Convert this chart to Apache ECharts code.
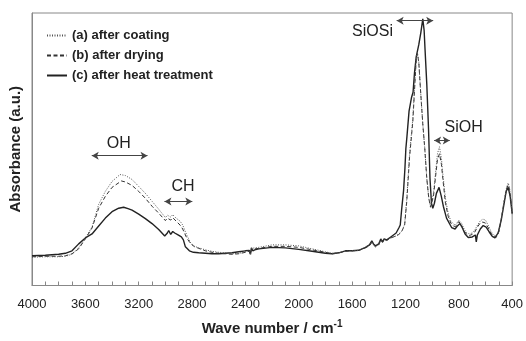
<!DOCTYPE html>
<html>
<head>
<meta charset="utf-8">
<script src="https://cdn.jsdelivr.net/npm/echarts@6/dist/echarts.min.js"></script>
<style>
  html, body { margin: 0; padding: 0; background: #fff; }
  #chart { width: 526px; height: 341px; }
</style>
</head>
<body>
<div id="chart"></div>
<script>
// FTIR spectra, [wave number, absorbance]
const seriesNames = ['(a) after coating', '(b) after drying', '(c) after heat treatment'];

const specA = [
  [4000, 0.114], [3900, 0.116], [3800, 0.116], [3750, 0.118], [3700, 0.126], [3650, 0.152],
  [3600, 0.192], [3550, 0.236], [3500, 0.328], [3450, 0.380], [3400, 0.420], [3340, 0.448],
  [3300, 0.444], [3250, 0.428], [3200, 0.400], [3150, 0.372], [3100, 0.340], [3050, 0.308],
  [3000, 0.274], [2985, 0.284], [2975, 0.290], [2960, 0.276], [2945, 0.286], [2920, 0.272],
  [2890, 0.260], [2870, 0.244], [2840, 0.204], [2810, 0.172], [2780, 0.158], [2750, 0.152],
  [2700, 0.144], [2650, 0.138], [2600, 0.134], [2550, 0.132], [2500, 0.128], [2450, 0.130],
  [2400, 0.136], [2372, 0.140], [2362, 0.128], [2355, 0.150], [2345, 0.144], [2300, 0.154],
  [2200, 0.164], [2100, 0.164], [2000, 0.160], [1900, 0.148], [1800, 0.136], [1750, 0.130],
  [1700, 0.132], [1650, 0.138], [1600, 0.140], [1550, 0.142], [1500, 0.154], [1470, 0.162],
  [1452, 0.176], [1440, 0.166], [1425, 0.158], [1400, 0.166], [1385, 0.184], [1372, 0.176],
  [1360, 0.184], [1340, 0.182], [1310, 0.192], [1290, 0.196], [1270, 0.200], [1250, 0.208],
  [1230, 0.218], [1220, 0.228], [1206, 0.248], [1190, 0.352], [1169, 0.532], [1145, 0.672],
  [1132, 0.800], [1119, 0.920], [1110, 0.940], [1100, 0.904], [1085, 0.772], [1070, 0.652],
  [1055, 0.552], [1040, 0.432], [1025, 0.352], [1012, 0.320], [1005, 0.324], [990, 0.372],
  [975, 0.452], [960, 0.532], [945, 0.560], [930, 0.512], [920, 0.452], [900, 0.352],
  [880, 0.292], [860, 0.260], [840, 0.248], [825, 0.244], [800, 0.264], [780, 0.252],
  [760, 0.228], [740, 0.212], [720, 0.208], [700, 0.212], [680, 0.224], [660, 0.244],
  [640, 0.260], [620, 0.268], [600, 0.264], [580, 0.244], [560, 0.220], [540, 0.204],
  [520, 0.200], [500, 0.220], [480, 0.276], [460, 0.344], [440, 0.400], [430, 0.414],
  [420, 0.396], [410, 0.352], [400, 0.292]
];

const specB = [
  [4000, 0.116], [3900, 0.118], [3800, 0.118], [3750, 0.120], [3700, 0.128], [3650, 0.148],
  [3600, 0.188], [3550, 0.232], [3500, 0.312], [3450, 0.360], [3400, 0.396], [3330, 0.422],
  [3300, 0.418], [3250, 0.404], [3200, 0.380], [3150, 0.352], [3100, 0.320], [3050, 0.292],
  [3000, 0.262], [2985, 0.272], [2975, 0.278], [2960, 0.264], [2945, 0.274], [2920, 0.260],
  [2890, 0.244], [2870, 0.228], [2840, 0.192], [2810, 0.168], [2780, 0.156], [2750, 0.150],
  [2700, 0.140], [2650, 0.134], [2600, 0.130], [2550, 0.128], [2500, 0.126], [2450, 0.128],
  [2400, 0.134], [2372, 0.138], [2362, 0.126], [2355, 0.146], [2345, 0.140], [2300, 0.150],
  [2200, 0.158], [2100, 0.158], [2000, 0.154], [1900, 0.144], [1800, 0.134], [1750, 0.128],
  [1700, 0.132], [1650, 0.138], [1600, 0.140], [1550, 0.142], [1500, 0.152], [1470, 0.160],
  [1452, 0.174], [1440, 0.164], [1425, 0.156], [1400, 0.164], [1385, 0.184], [1372, 0.174],
  [1360, 0.184], [1340, 0.182], [1310, 0.192], [1290, 0.196], [1270, 0.200], [1250, 0.206],
  [1230, 0.216], [1220, 0.224], [1206, 0.244], [1190, 0.340], [1169, 0.520], [1145, 0.660],
  [1132, 0.788], [1119, 0.916], [1110, 0.936], [1100, 0.900], [1085, 0.772], [1070, 0.652],
  [1055, 0.552], [1040, 0.432], [1025, 0.352], [1012, 0.316], [1005, 0.320], [990, 0.360],
  [975, 0.436], [960, 0.508], [945, 0.532], [930, 0.488], [920, 0.432], [900, 0.332],
  [880, 0.280], [860, 0.252], [840, 0.240], [825, 0.238], [800, 0.258], [780, 0.244],
  [760, 0.220], [740, 0.206], [720, 0.202], [700, 0.206], [680, 0.216], [660, 0.236],
  [640, 0.252], [620, 0.256], [600, 0.252], [580, 0.234], [560, 0.212], [540, 0.198],
  [520, 0.194], [500, 0.216], [480, 0.272], [460, 0.340], [440, 0.394], [430, 0.406],
  [420, 0.388], [410, 0.344], [400, 0.288]
];

const specC = [
  [4000, 0.120], [3900, 0.122], [3800, 0.126], [3750, 0.130], [3700, 0.140], [3650, 0.168],
  [3600, 0.192], [3550, 0.208], [3500, 0.240], [3450, 0.272], [3400, 0.298], [3350, 0.312],
  [3313, 0.316], [3280, 0.310], [3250, 0.304], [3200, 0.288], [3150, 0.270], [3100, 0.250],
  [3050, 0.226], [3005, 0.200], [2985, 0.212], [2975, 0.222], [2960, 0.206], [2945, 0.218],
  [2930, 0.212], [2905, 0.204], [2880, 0.196], [2865, 0.184], [2850, 0.156], [2820, 0.140],
  [2790, 0.134], [2750, 0.132], [2700, 0.130], [2650, 0.128], [2600, 0.128], [2550, 0.130],
  [2500, 0.132], [2450, 0.136], [2400, 0.140], [2372, 0.142], [2362, 0.126], [2355, 0.152],
  [2345, 0.140], [2330, 0.144], [2300, 0.148], [2200, 0.154], [2100, 0.152], [2000, 0.146],
  [1900, 0.138], [1800, 0.130], [1750, 0.128], [1700, 0.132], [1650, 0.140], [1600, 0.140],
  [1550, 0.142], [1500, 0.154], [1470, 0.164], [1452, 0.180], [1440, 0.168], [1425, 0.160],
  [1400, 0.168], [1385, 0.188], [1372, 0.176], [1360, 0.188], [1340, 0.184], [1310, 0.196],
  [1290, 0.204], [1270, 0.212], [1250, 0.232], [1239, 0.244], [1229, 0.304], [1214, 0.384],
  [1204, 0.472], [1197, 0.552], [1189, 0.600], [1173, 0.704], [1154, 0.760], [1143, 0.780],
  [1132, 0.860], [1119, 0.924], [1100, 0.972], [1085, 1.020], [1070, 1.076], [1060, 1.030],
  [1053, 0.952], [1040, 0.812], [1027, 0.632], [1016, 0.432], [1005, 0.332], [995, 0.312],
  [983, 0.332], [968, 0.372], [948, 0.396], [931, 0.360], [916, 0.320], [892, 0.272],
  [854, 0.234], [828, 0.228], [811, 0.240], [791, 0.250], [773, 0.232], [753, 0.208],
  [729, 0.194], [699, 0.196], [676, 0.204], [669, 0.176], [661, 0.204], [639, 0.228],
  [617, 0.242], [595, 0.236], [572, 0.216], [549, 0.198], [529, 0.192], [505, 0.212],
  [482, 0.264], [460, 0.332], [445, 0.380], [430, 0.396], [415, 0.360], [400, 0.292]
];

// band labels and arrows (wave number, absorbance)
const bandNames = ['OH', 'CH', 'SiOSi', 'SiOH'];
const bandLabelPos = [[3350, 0.572], [2867, 0.399], [1447, 1.025], [764, 0.639]];
const bandArrows = [
  [[3552, 0.524], [3134, 0.524]],
  [[3007, 0.339], [2798, 0.339]],
  [[1266, 1.069], [992, 1.069]],
  [[985, 0.585], [868, 0.585]]
];

const xTicks = [400, 4000, 400]; // min, max, step

const chart = echarts.init(document.getElementById('chart'));

const lineStyles = [
  { color: '#555', width: 1, type: [1, 1.5] },
  { color: '#333', width: 1, type: [4, 2.5] },
  { color: '#222', width: 1.4, type: 'solid' }
];
const specs = [specA, specB, specC];

const seriesList = specs.map((spec, i) => ({
  type: 'line',
  name: seriesNames[i],
  data: spec,
  symbol: 'none',
  smooth: false,
  lineStyle: lineStyles[i],
  itemStyle: { color: lineStyles[i].color },
  z: 3 - i,
  silent: true
}));

seriesList.push({
  type: 'scatter',
  name: 'bands',
  symbolSize: 0,
  silent: true,
  itemStyle: { opacity: 1 },
  data: bandNames.map((n, i) => ({ name: n, value: bandLabelPos[i] })),
  label: {
    show: true,
    position: 'inside',
    formatter: '{b}',
    fontFamily: 'Liberation Sans, Arial, sans-serif',
    fontSize: 16,
    color: '#222',
    opacity: 1
  },
  markLine: {
    silent: true,
    symbol: ['arrow', 'arrow'],
    symbolSize: [6, 7],
    label: { show: false },
    lineStyle: { color: '#444', width: 1, type: 'solid', opacity: 1 },
    data: bandArrows.map(a => [{ coord: a[0] }, { coord: a[1] }])
  }
});

const option = {
  animation: false,
  backgroundColor: '#fff',
  grid: {
    left: 32, right: 12, top: 13, bottom: 53,
    show: true, borderColor: '#888', borderWidth: 1
  },
  legend: {
    data: seriesNames,
    orient: 'vertical',
    left: 41,
    top: 24,
    itemWidth: 20,
    itemHeight: 12,
    itemGap: 7,
    itemStyle: { opacity: 0 },
    textStyle: {
      fontFamily: 'Liberation Sans, Arial, sans-serif',
      fontWeight: 'bold',
      fontSize: 13,
      color: '#222'
    }
  },
  xAxis: {
    type: 'value',
    inverse: true,
    min: xTicks[0],
    max: xTicks[1],
    interval: xTicks[2],
    name: 'Wave number / cm{sup|-1}',
    nameLocation: 'middle',
    nameGap: 34,
    nameTextStyle: {
      fontFamily: 'Liberation Sans, Arial, sans-serif',
      fontWeight: 'bold',
      fontSize: 15,
      color: '#222',
      rich: {
        sup: {
          fontFamily: 'Liberation Sans, Arial, sans-serif',
          fontWeight: 'bold',
          fontSize: 10,
          color: '#222',
          verticalAlign: 'top',
          padding: [0, 0, 8, 0]
        }
      }
    },
    axisLine: { lineStyle: { color: '#888' } },
    axisTick: { inside: true, length: 4, lineStyle: { color: '#888' } },
    minorTick: { show: true, splitNumber: 4, length: 4, lineStyle: { color: '#888' } },
    splitLine: { show: false },
    axisLabel: {
      margin: 12,
      formatter: v => String(v),
      fontFamily: 'Liberation Sans, Arial, sans-serif',
      fontSize: 13,
      color: '#222'
    }
  },
  yAxis: {
    type: 'value',
    min: 0,
    max: 1.1,
    name: 'Absorbance (a.u.)',
    nameLocation: 'middle',
    nameGap: 9,
    nameTextStyle: {
      fontFamily: 'Liberation Sans, Arial, sans-serif',
      fontWeight: 'bold',
      fontSize: 15,
      color: '#222'
    },
    axisLine: { show: true, lineStyle: { color: '#888' } },
    axisTick: { show: false },
    axisLabel: { show: false },
    splitLine: { show: false }
  },
  series: seriesList
};

chart.setOption(option);
</script>
</body>
</html>
